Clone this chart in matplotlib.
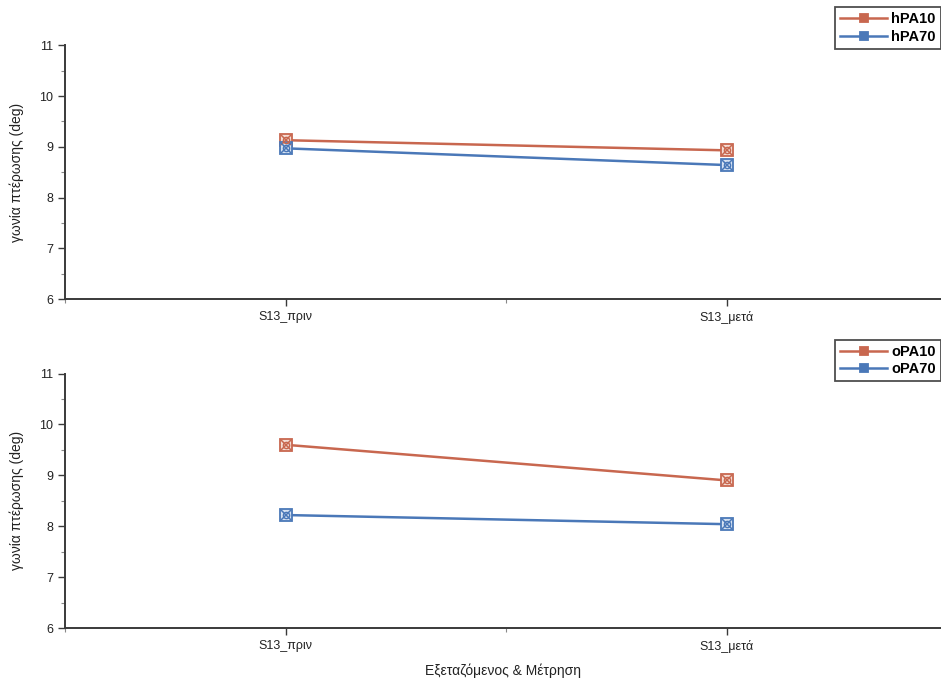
import matplotlib
matplotlib.use('Agg')
import matplotlib.pyplot as plt
from matplotlib.ticker import MultipleLocator

plt.rcParams['font.family'] = ['Liberation Sans', 'DejaVu Sans']

categories = ['S13_πριν', 'S13_μετά']
hPA10 = [9.13, 8.93]
hPA70 = [8.97, 8.64]
oPA10 = [9.60, 8.90]
oPA70 = [8.22, 8.04]

RED = '#c8674f'
BLUE = '#4a78b8'
AXIS = '#3a3a3a'


def draw_series(ax, x, y, color, label):
    ax.plot(x, y, '-', color=color, lw=1.8, marker='s', ms=8,
            mfc='#f4dcd4' if color == RED else '#d6e2f2', mec=color, mew=1.3,
            label=label, zorder=3)
    ax.plot(x, y, 'x', color=color, ms=7, mew=1.1, zorder=4)
    ax.plot(x, y, 'o', color=color, ms=4.5, mfc='none', mew=1.0, zorder=4)


def style_axes(ax):
    ax.set_xlim(-0.5, 1.485)
    ax.set_ylim(6, 11)
    ax.set_xticks(range(len(categories)))
    ax.set_xticklabels(categories)
    ax.xaxis.set_minor_locator(MultipleLocator(0.5))
    ax.yaxis.set_major_locator(MultipleLocator(1))
    ax.yaxis.set_minor_locator(MultipleLocator(0.5))
    for s in ['top', 'right']:
        ax.spines[s].set_visible(False)
    for s in ['left', 'bottom']:
        ax.spines[s].set_color(AXIS)
        ax.spines[s].set_linewidth(1.4)
    ax.tick_params(axis='both', which='major', length=5, width=1, color=AXIS,
                   labelsize=9, labelcolor='#222222')
    ax.tick_params(axis='both', which='minor', length=3, width=0.8, color='#888888')
    ax.set_ylabel('γωνία πτέρωσης (deg)', fontsize=10, color='#222222', labelpad=11)


fig = plt.figure(figsize=(9.41, 6.86), dpi=100)
ax1 = fig.add_axes([0.069, 0.564, 0.931, 0.370])
ax2 = fig.add_axes([0.069, 0.0845, 0.931, 0.371])

x = list(range(len(categories)))
draw_series(ax1, x, hPA10, RED, 'hPA10')
draw_series(ax1, x, hPA70, BLUE, 'hPA70')
draw_series(ax2, x, oPA10, RED, 'oPA10')
draw_series(ax2, x, oPA70, BLUE, 'oPA70')

for ax in (ax1, ax2):
    style_axes(ax)

ax2.set_xlabel('Εξεταζόμενος & Μέτρηση', fontsize=10, color='#222222', labelpad=8)

for ax, anchor in ((ax1, (1.0, 0.990)), (ax2, (1.0, 0.505))):
    h, l = ax.get_legend_handles_labels()
    leg = fig.legend(h, l, loc='upper right', bbox_to_anchor=anchor,
                     prop={'size': 10.5, 'weight': 'semibold'}, frameon=True,
                     fancybox=False, handlelength=3.2, handletextpad=0.3,
                     borderpad=0.35, labelspacing=0.25, borderaxespad=0.0)
    leg.get_frame().set_edgecolor('#222222')
    leg.get_frame().set_linewidth(1.3)
    for lh in leg.legend_handles:
        lh.set_markersize(6)
        lh.set_markerfacecolor(lh.get_color())

fig.savefig('out.png', dpi=100)
